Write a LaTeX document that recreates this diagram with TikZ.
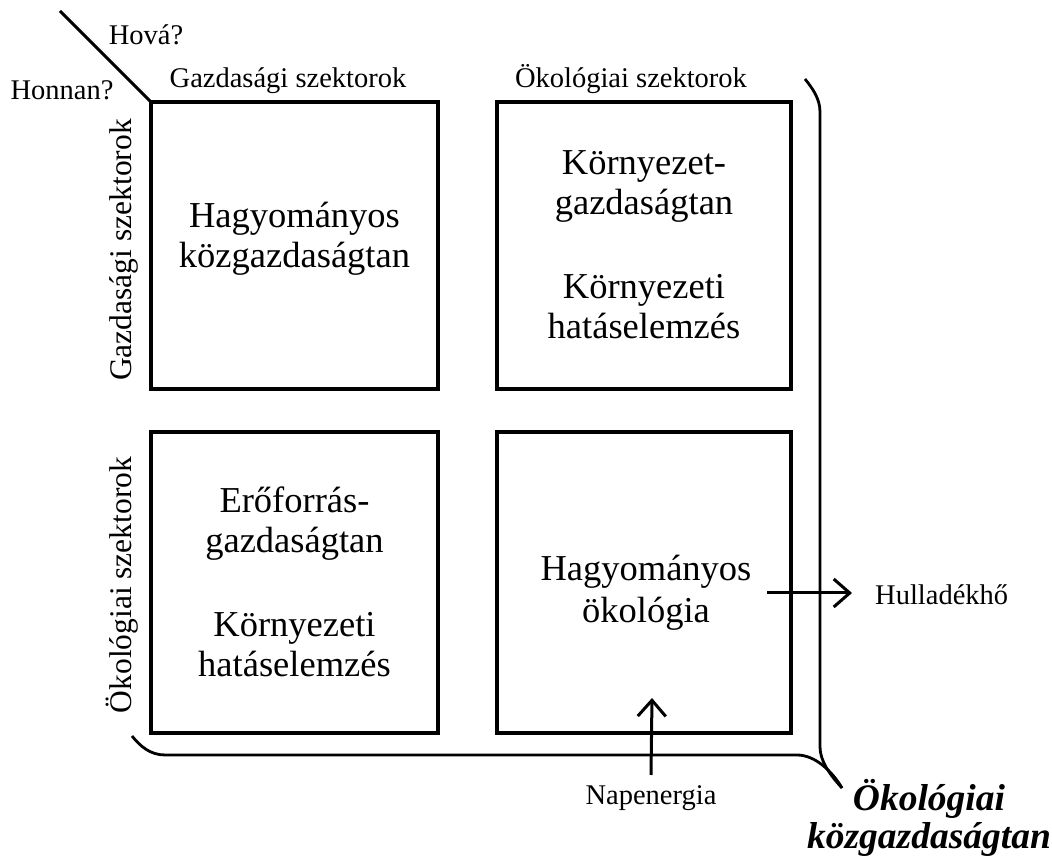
\documentclass[tikz,border=0pt]{standalone}
\usepackage{fontspec}
\setmainfont{Liberation Serif}
\usetikzlibrary{arrows.meta}
\begin{document}
\begin{tikzpicture}[x=1pt,y=1pt,
  box/.style={draw, line width=3.4pt, outer sep=0pt, inner sep=0pt},
  big/.style={font=\fontsize{36.5}{40}\selectfont, align=center, inner sep=0pt},
  lbl/.style={font=\fontsize{28.5}{30}\selectfont, inner sep=0pt},
  vlbl/.style={font=\fontsize{31.5}{32}\selectfont, inner sep=0pt, rotate=90, anchor=base},
  brk/.style={line width=2.8pt},
  arr/.style={line width=3pt, -{Straight Barb[length=16pt,width=28pt]}},
  ttl/.style={font=\fontsize{37.5}{38}\selectfont\bfseries\itshape, align=center, inner sep=0pt}
]
\useasboundingbox (0,0) rectangle (1052,861);
% boxes
\node[box, minimum width=287pt, minimum height=287pt] (tl) at (294.5,615.5) {};
\node[box, minimum width=294pt, minimum height=287pt] (tr) at (644,615.5) {};
\node[box, minimum width=287pt, minimum height=301pt] (bl) at (294.5,278.5) {};
\node[box, minimum width=294pt, minimum height=301pt] (br) at (644,278.5) {};
% box texts
\node[big] (tlt) at (294.5,622) {Hagyományos\\közgazdaságtan};
\node[big] (trt) at (644,616.5) {Környezet-\\gazdaságtan\\[44pt]Környezeti\\hatáselemzés};
\node[big] (blt) at (294.5,279.5) {Erőforrás-\\gazdaságtan\\[44pt]Környezeti\\hatáselemzés};
\node[big] (brt) at (646,268.5) {Hagyományos\\[2pt]ökológia};
% header labels
\node[lbl, anchor=base] (hova) at (146,816) {Hová?};
\node[lbl, anchor=base] (honnan) at (62,761) {Honnan?};
\node[lbl, anchor=base] (gsz) at (288,773) {Gazdasági szektorok};
\node[lbl, anchor=base] (osz) at (631,773) {Ökológiai szektorok};
\node[vlbl] (gszv) at (131,611) {Gazdasági szektorok};
\node[vlbl] (oszv) at (131,276) {Ökológiai szektorok};
% diagonal
\coordinate (dg) at (60,850);
\draw[line width=3pt] (dg) -- (tl.north west);
% bracket
\draw[brk] (805,782) .. controls (813,772) and (820,762) .. (820,749) -- (820,114) .. controls (820,100) and (830,86) .. (842,73);
\draw[brk] (132,125) .. controls (140,115) and (150,106) .. (165,106) -- (797,106) .. controls (815,106) and (832,90) .. (842,73);
\node[ttl] (ok) at (929,43) {Ökológiai\\közgazdaságtan};
% flows
\node[lbl, anchor=base west] (hul) at (875,256) {Hulladékhő};
\coordinate (hs) at (767,268);
\draw[arr] (hs) -- ([xshift=-23pt]hul.west |- hs);
\node[lbl, anchor=base] (nap) at (651,56) {Napenergia};
\coordinate (nt) at (652,163);
\draw[arr] (nap.north |- 0,86) -- (nt);
\end{tikzpicture}
\end{document}
